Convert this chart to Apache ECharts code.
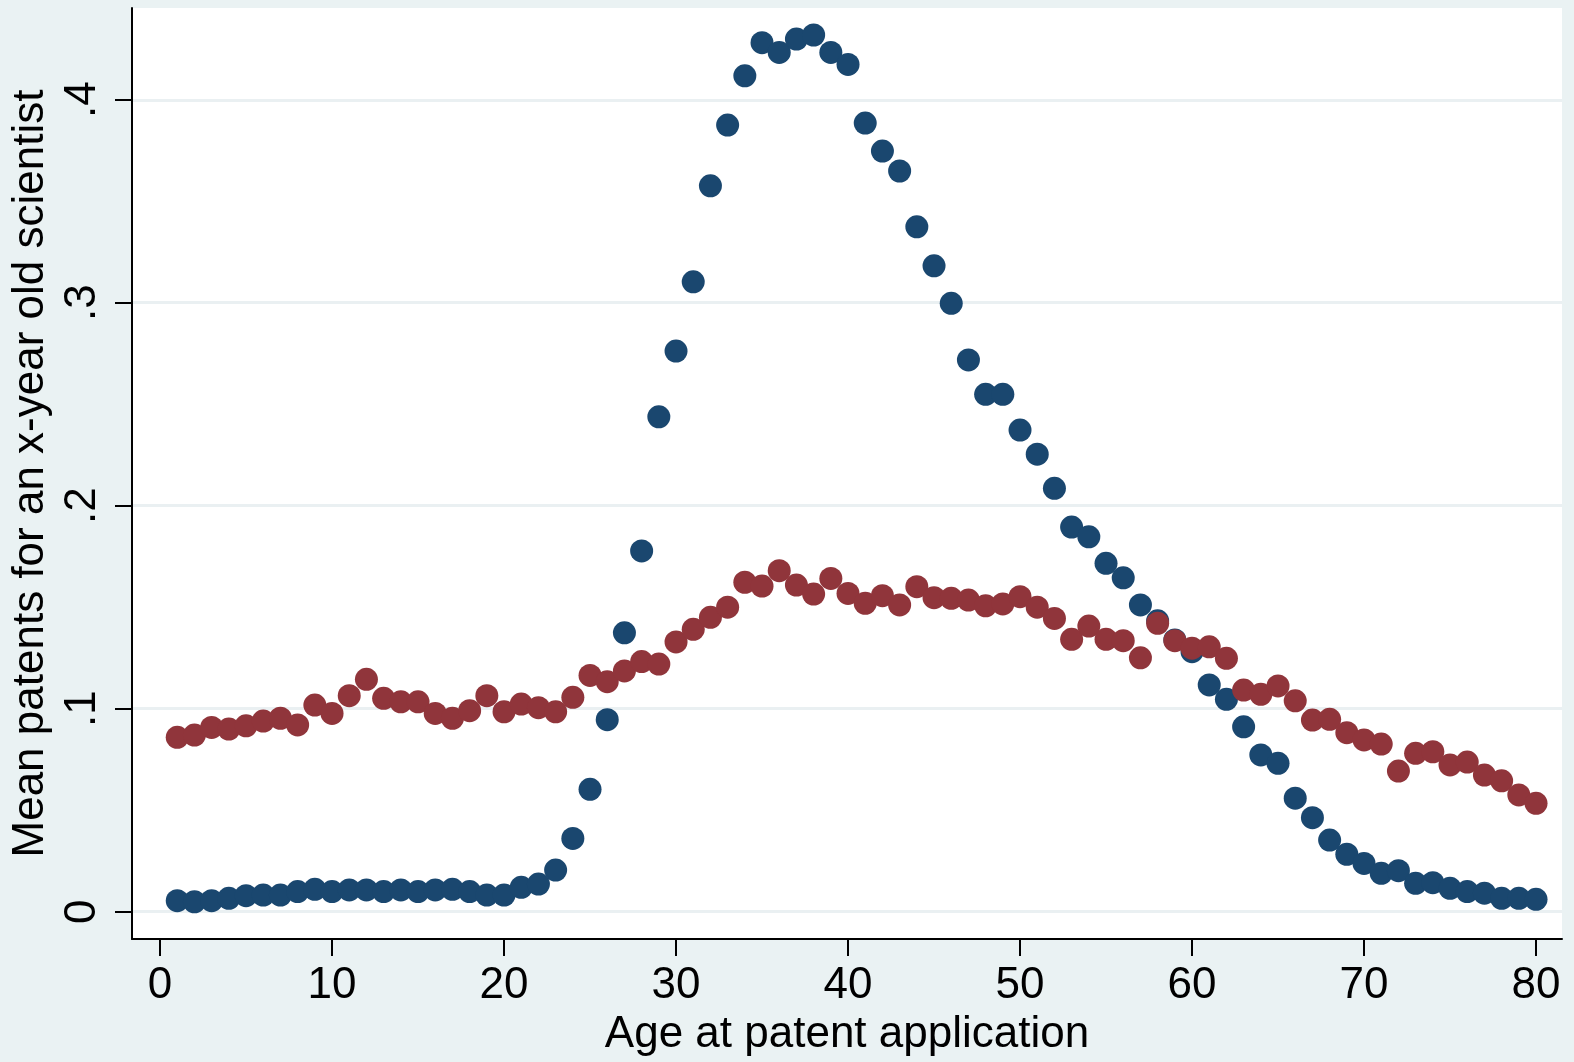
<!DOCTYPE html>
<html>
<head>
<meta charset="utf-8">
<title>Mean patents by age</title>
<script src="https://cdn.jsdelivr.net/npm/echarts@6/dist/echarts.min.js"></script>
<style>
    html, body { margin: 0; padding: 0; background: #eaf2f3; }
    #chart { width: 1574px; height: 1062px; }
</style>
</head>
<body>
<div id="chart"></div>
<script>
//年龄 1..80
var ages = [];
for (var a = 1; a <= 80; a++) ages.push(a);

//深蓝序列
var navyVals = [
    0.0054, 0.0049, 0.0054, 0.0066, 0.0079, 0.0082, 0.0082, 0.0099, 0.0110, 0.0099,
    0.0107, 0.0107, 0.0099, 0.0107, 0.0099, 0.0107, 0.0110, 0.0099, 0.0082, 0.0082,
    0.0120, 0.0136, 0.0205, 0.0361, 0.0603, 0.0946, 0.1374, 0.1777, 0.2438, 0.2762,
    0.3103, 0.3576, 0.3875, 0.4118, 0.4281, 0.4233, 0.4299, 0.4319, 0.4233, 0.4174,
    0.3885, 0.3747, 0.3649, 0.3374, 0.3182, 0.2997, 0.2718, 0.2549, 0.2549, 0.2373,
    0.2254, 0.2086, 0.1895, 0.1847, 0.1716, 0.1645, 0.1511, 0.1433, 0.1339, 0.1281,
    0.1117, 0.1046, 0.0911, 0.0772, 0.0731, 0.0559, 0.0463, 0.0353, 0.0283, 0.0238,
    0.0189, 0.0202, 0.0140, 0.0143, 0.0115, 0.0099, 0.0091, 0.0066, 0.0066, 0.0061
];

//暗红序列
var maroonVals = [
    0.0859, 0.0870, 0.0908, 0.0900, 0.0916, 0.0939, 0.0953, 0.0920, 0.1018, 0.0977,
    0.1064, 0.1145, 0.1051, 0.1034, 0.1034, 0.0977, 0.0953, 0.0990, 0.1064, 0.0985,
    0.1023, 0.1005, 0.0985, 0.1056, 0.1164, 0.1133, 0.1186, 0.1232, 0.1220, 0.1329,
    0.1391, 0.1450, 0.1500, 0.1623, 0.1604, 0.1680, 0.1609, 0.1565, 0.1642, 0.1568,
    0.1519, 0.1557, 0.1511, 0.1601, 0.1547, 0.1544, 0.1535, 0.1507, 0.1516, 0.1552,
    0.1500, 0.1445, 0.1342, 0.1407, 0.1342, 0.1335, 0.1251, 0.1421, 0.1335, 0.1298,
    0.1305, 0.1248, 0.1092, 0.1071, 0.1112, 0.1039, 0.0944, 0.0948, 0.0882, 0.0846,
    0.0826, 0.0693, 0.0780, 0.0788, 0.0723, 0.0737, 0.0673, 0.0645, 0.0575, 0.0534
];

//刻度
var xTicks = [0, 10, 20, 30, 40, 50, 60, 70, 80];
var yTicks = [0, 0.1, 0.2, 0.3, 0.4];

var FONT = '"Liberation Sans", Helvetica, Arial, sans-serif';

function pairs(vals) {
    return ages.map(function (a, i) { return [a, vals[i]]; });
}

var chart = echarts.init(document.getElementById('chart'));

chart.setOption({
    backgroundColor: '#eaf2f3',
    animation: false,
    grid: {
        left: 132, right: 12, top: 8, bottom: 123,
        show: true, backgroundColor: '#ffffff', borderWidth: 0
    },
    xAxis: {
        type: 'value',
        min: -1.63, max: 81.51,
        name: 'Age at patent application',
        nameLocation: 'middle',
        nameGap: 74,
        nameTextStyle: { color: '#000', fontFamily: FONT, fontSize: 44 },
        axisLine: { show: true, onZero: false, lineStyle: { color: '#000', width: 2 } },
        axisTick: { show: true, length: 17, lineStyle: { color: '#000', width: 2 }, customValues: xTicks },
        axisLabel: { color: '#000', fontFamily: FONT, fontSize: 44, margin: 25, customValues: xTicks },
        splitLine: { show: false }
    },
    yAxis: {
        type: 'value',
        min: -0.01345, max: 0.4452,
        name: 'Mean patents for an x-year old scientist',
        nameLocation: 'middle',
        nameRotate: 90,
        nameGap: 76,
        nameTextStyle: { color: '#000', fontFamily: FONT, fontSize: 44 },
        axisLine: { show: true, onZero: false, lineStyle: { color: '#000', width: 2 } },
        axisTick: { show: true, length: 17, lineStyle: { color: '#000', width: 2 }, customValues: yTicks },
        axisLabel: {
            color: '#000', fontFamily: FONT, fontSize: 44, margin: 27, rotate: 90,
            customValues: yTicks,
            formatter: function (v) { return v === 0 ? '0' : String(+v.toFixed(1)).replace(/^0\./, '.'); }
        },
        splitLine: { show: true, lineStyle: { color: '#eaf0f2', width: 3 } }
    },
    series: [
        {
            type: 'scatter', name: 'navy',
            data: pairs(navyVals),
            symbol: 'circle', symbolSize: 23,
            itemStyle: { color: '#1a476f', opacity: 1 }
        },
        {
            type: 'scatter', name: 'maroon',
            data: pairs(maroonVals),
            symbol: 'circle', symbolSize: 23,
            itemStyle: { color: '#90353b', opacity: 1 }
        }
    ]
});
</script>
</body>
</html>
